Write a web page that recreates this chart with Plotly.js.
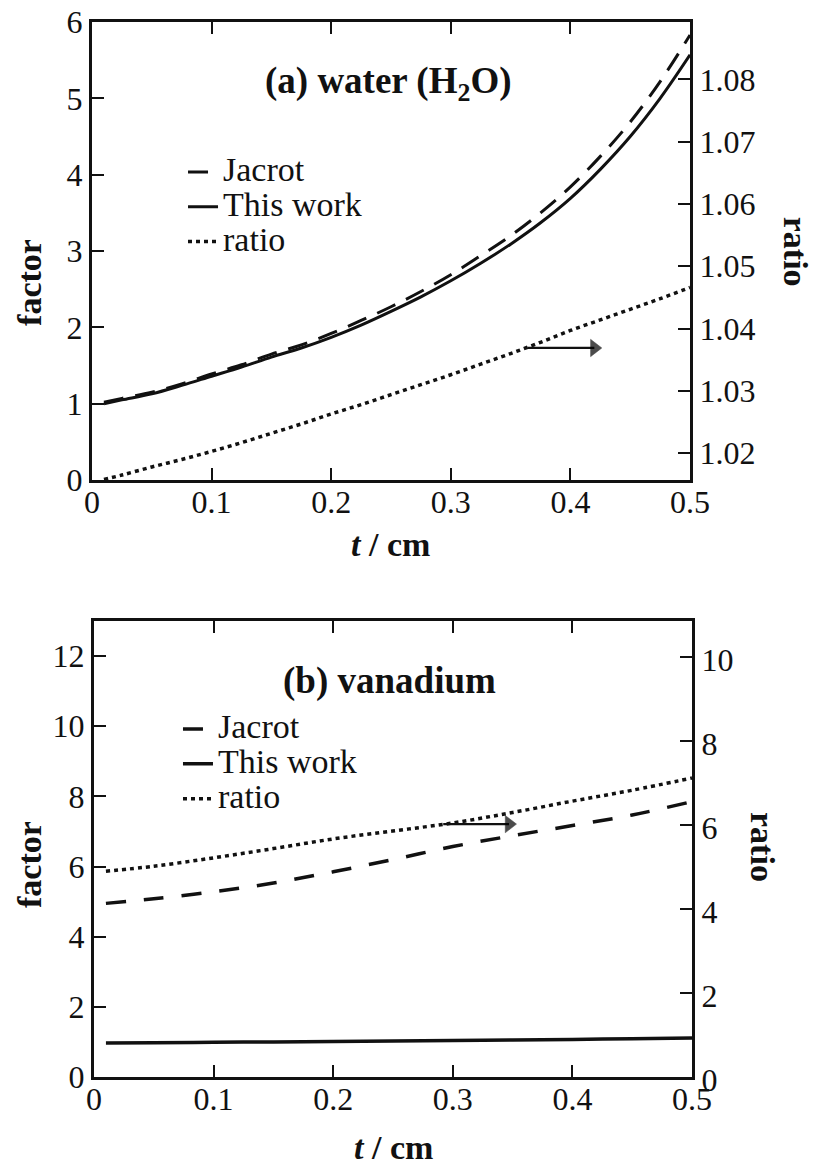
<!DOCTYPE html>
<html><head><meta charset="utf-8">
<script src="https://cdn.plot.ly/plotly-3.0.1.min.js"></script>
<style>html,body{margin:0;padding:0;background:#fff}#chart{width:813px;height:1172px}</style>
</head><body><div id="chart"></div>
<script>
// ---- data ----
// (a) water
const thicknessA     = [0.01, 0.025, 0.05, 0.075, 0.1, 0.125, 0.15, 0.175, 0.2, 0.225, 0.25,
                        0.275, 0.3, 0.325, 0.35, 0.375, 0.4, 0.425, 0.45, 0.475, 0.5];
const waterJacrot    = [1.02, 1.07, 1.15, 1.26, 1.39, 1.51, 1.65, 1.77, 1.92, 2.09, 2.27,
                        2.47, 2.69, 2.94, 3.20, 3.50, 3.84, 4.24, 4.69, 5.22, 5.83];
const waterThisWork  = [1.00, 1.05, 1.13, 1.24, 1.36, 1.48, 1.61, 1.73, 1.87, 2.03, 2.21,
                        2.40, 2.61, 2.84, 3.09, 3.37, 3.69, 4.07, 4.50, 5.00, 5.57];
const waterRatio     = [1.0158, 1.0165, 1.0178, 1.0190, 1.0203, 1.0217, 1.0232, 1.0247, 1.0263, 1.0278, 1.0294,
                        1.0310, 1.0326, 1.0343, 1.0360, 1.0378, 1.0397, 1.0414, 1.0431, 1.0448, 1.0466];
// (b) vanadium
const thicknessB     = [0.01, 0.05, 0.1, 0.15, 0.2, 0.25, 0.3, 0.35, 0.4, 0.45, 0.5];
const vanJacrot      = [4.95, 5.08, 5.28, 5.53, 5.85, 6.20, 6.57, 6.88, 7.17, 7.47, 7.85];
const vanThisWork    = [0.97, 0.98, 0.99, 1.00, 1.01, 1.025, 1.04, 1.055, 1.07, 1.09, 1.11];
const vanRatio       = [4.90, 5.02, 5.22, 5.44, 5.67, 5.86, 6.05, 6.30, 6.57, 6.83, 7.12];

const seriesNames    = ['Jacrot', 'This work', 'ratio'];
const panelTitles    = ['(a) water (H<sub>2</sub>O)', '(b) vanadium'];
const xTitle         = '<i>t</i> / cm';
const yTitle         = 'factor';
const y2Title        = 'ratio';
const tTicks         = [0, 0.1, 0.2, 0.3, 0.4, 0.5];
const waterFactorTicks = [0, 1, 2, 3, 4, 5, 6];
const waterRatioTicks  = [1.02, 1.03, 1.04, 1.05, 1.06, 1.07, 1.08];
const vanFactorTicks   = [0, 2, 4, 6, 8, 10, 12];
const vanRatioTicks    = [0, 2, 4, 6, 8, 10];
// "points to the right axis" arrows: tail t, arrow-head t, level on the factor axis
const waterArrow = {from: 0.364, to: 0.420, level: 1.73};
const vanArrow   = {from: 0.292, to: 0.347, level: 7.21};

// ---- styling ----
const FONT = 'Liberation Serif, Times New Roman, serif';
const INK = '#111';
const tickFont = {family: FONT, size: 32, color: INK};

function line(dash, w) { return {color: INK, width: w, dash: dash, shape: 'spline', smoothing: 1}; }
function legName(s) { return '<span style="font-size:34px">' + s + '</span>'; }
function arrowTrace(a, xa, ya) {
  return {x: [a.from, a.to], y: [a.level, a.level], xaxis: xa, yaxis: ya, mode: 'lines+markers',
          line: {color: INK, width: 2.2}, showlegend: false, hoverinfo: 'skip',
          marker: {symbol: ['circle', 'triangle-right'], size: [0, 15], color: '#000', line: {width: 0.5, color: '#000'}}};
}

const traces = [
  {x: thicknessA, y: waterJacrot,   name: legName(seriesNames[0]), xaxis: 'x',  yaxis: 'y',  mode: 'lines', line: line('20px,12px', 3),   legend: 'legend'},
  {x: thicknessA, y: waterThisWork, name: legName(seriesNames[1]), xaxis: 'x',  yaxis: 'y',  mode: 'lines', line: line('solid', 3),       legend: 'legend'},
  {x: thicknessA, y: waterRatio,    name: legName(seriesNames[2]), xaxis: 'x',  yaxis: 'y2', mode: 'lines', line: line('4px,4px', 3.5),   legend: 'legend'},
  {x: thicknessB, y: vanJacrot,     name: legName(seriesNames[0]), xaxis: 'x2', yaxis: 'y3', mode: 'lines', line: line('20px,18px', 3.5), legend: 'legend2'},
  {x: thicknessB, y: vanThisWork,   name: legName(seriesNames[1]), xaxis: 'x2', yaxis: 'y3', mode: 'lines', line: line('solid', 3.5),     legend: 'legend2'},
  {x: thicknessB, y: vanRatio,      name: legName(seriesNames[2]), xaxis: 'x2', yaxis: 'y4', mode: 'lines', line: line('4px,4px', 3.5),   legend: 'legend2'},
  arrowTrace(waterArrow, 'x', 'y'),
  arrowTrace(vanArrow, 'x2', 'y3')
];

const axBase = {
  showgrid: false, zeroline: false, showline: true, linecolor: INK, linewidth: 3,
  ticks: 'inside', ticklen: 12, tickwidth: 2, tickcolor: INK, tickfont: tickFont,
  fixedrange: true
};
const xBase = Object.assign({}, axBase, {ticklabelstandoff: -8});

function txt(text, x, y, size, angle, xr, yr) {
  return {text: text, x: x, y: y, xref: xr || 'paper', yref: yr || 'paper', showarrow: false,
          textangle: angle || 0, xanchor: 'center', yanchor: 'middle',
          font: {family: FONT, size: size, color: INK}};
}
const legendFont = {family: FONT, size: 24.5, color: INK};

const layout = {
  width: 813, height: 1172,
  margin: {l: 92, r: 121, t: 21, b: 95},
  paper_bgcolor: '#fff', plot_bgcolor: '#fff',
  showlegend: true,
  xaxis:  Object.assign({}, xBase, {domain: [0, 0.9967], anchor: 'y', range: [0, 0.5], tickvals: tTicks, mirror: 'ticks'}),
  yaxis:  Object.assign({}, axBase, {domain: [0.5653, 0.99905], anchor: 'x', range: [0, 6], tickvals: waterFactorTicks}),
  yaxis2: Object.assign({}, axBase, {overlaying: 'y', side: 'right', anchor: 'x', range: [1.0157, 1.0892], tickvals: waterRatioTicks, tickformat: '.2f'}),
  xaxis2: Object.assign({}, xBase, {domain: [0.0033, 1], anchor: 'y3', range: [0, 0.5], tickvals: tTicks, mirror: 'ticks'}),
  yaxis3: Object.assign({}, axBase, {domain: [0, 0.4318], anchor: 'x2', range: [0, 13], tickvals: vanFactorTicks}),
  yaxis4: Object.assign({}, axBase, {overlaying: 'y3', side: 'right', anchor: 'x2', range: [0, 10.86], tickvals: vanRatioTicks, ticklabelshift: 3}),
  legend:  {x: 0.1517, y: 0.8239, xanchor: 'left', yanchor: 'middle', bgcolor: 'rgba(0,0,0,0)',
            font: legendFont, tracegroupgap: 0},
  legend2: {x: 0.1433, y: 0.2964, xanchor: 'left', yanchor: 'middle', bgcolor: 'rgba(0,0,0,0)',
            font: legendFont, tracegroupgap: 0},
  annotations: [
    txt('<b>' + panelTitles[0] + '</b>', 0.248, 5.19, 37, 0, 'x', 'y'),
    txt('<b>' + panelTitles[1] + '</b>', 0.2467, 11.3, 37, 0, 'x2', 'y3'),
    txt('<b>' + yTitle + '</b>', -0.1033, 0.752, 34, -90),
    txt('<b>' + y2Title + '</b>', 1.172, 0.7813, 34, 90),
    txt('<b>' + yTitle + '</b>', -0.1033, 0.2008, 34, -90),
    txt('<b>' + y2Title + '</b>', 1.1183, 0.2178, 34, 90),
    txt('<b>' + xTitle + '</b>', 0.497, 0.504, 34, 0),
    txt('<b>' + xTitle + '</b>', 0.503, -0.0672, 34, 0)
  ]
};

Plotly.newPlot('chart', traces, layout, {displayModeBar: false, staticPlot: true});
</script>
</body></html>
